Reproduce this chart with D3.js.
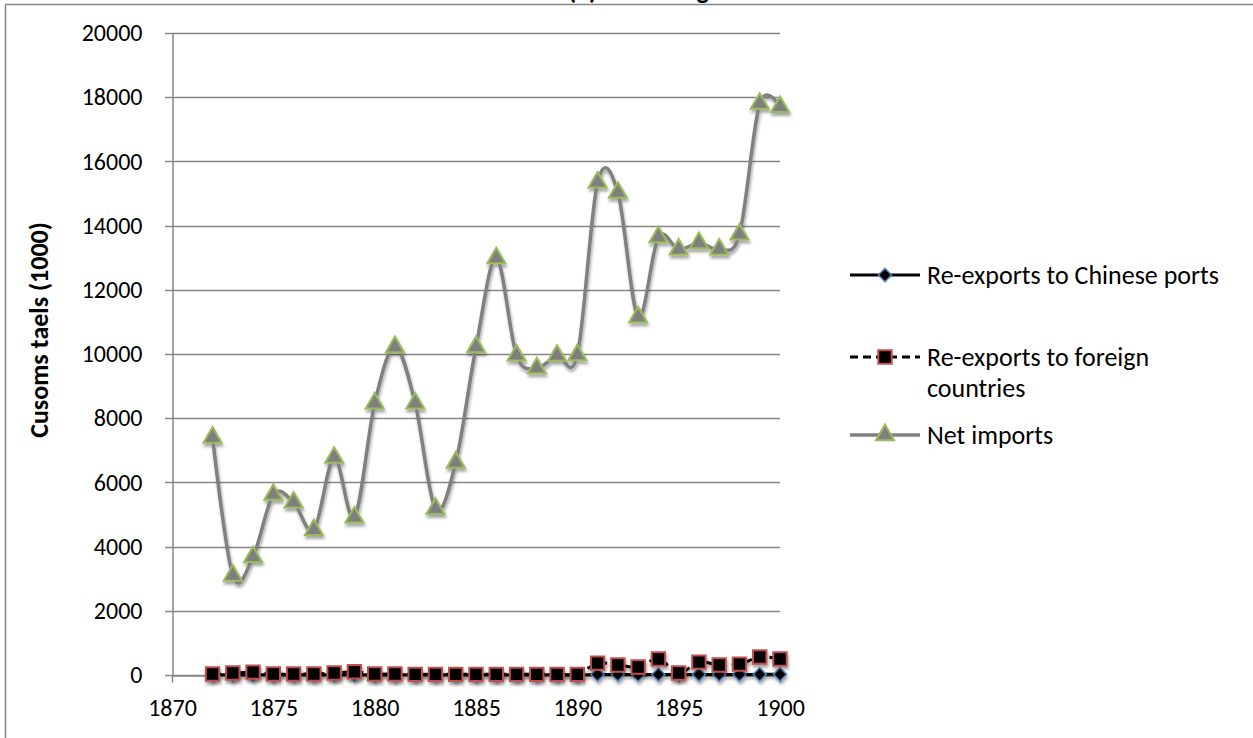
<!DOCTYPE html>
<html lang="en">
  <head>
    <meta charset="UTF-8" />
    <title>Re-exports and net imports</title>
    <style>
      body { margin: 0; background: #fff; }
      text { font-family: Carlito, Calibri, Lato, sans-serif; }
    </style>
    <script src="https://d3js.org/d3.v7.min.js"></script>
  </head>
  <body>
    <div id="svg-container"></div>
    <script>
      // data
      const years = [1872, 1873, 1874, 1875, 1876, 1877, 1878, 1879, 1880, 1881,
        1882, 1883, 1884, 1885, 1886, 1887, 1888, 1889, 1890, 1891,
        1892, 1893, 1894, 1895, 1896, 1897, 1898, 1899, 1900];
      const chinesePorts = [5, 5, 5, 5, 5, 5, 5, 5, 5, 5,
        5, 5, 5, 5, 5, 5, 5, 5, 5, 15,
        15, 10, 15, 10, 15, 15, 15, 20, 20];
      const foreignCountries = [30, 60, 90, 30, 30, 30, 60, 100, 30, 30,
        20, 20, 20, 20, 20, 20, 20, 20, 20, 370,
        310, 250, 500, 60, 400, 310, 340, 560, 500];
      const netImports = [7400, 3100, 3680, 5620, 5380, 4520, 6770, 4910, 8460, 10220,
        8460, 5180, 6620, 10220, 12990, 9960, 9560, 9950, 9970, 15350,
        15030, 11150, 13640, 13260, 13460, 13260, 13730, 17800, 17700];
      const yTicks = [0, 2000, 4000, 6000, 8000, 10000, 12000, 14000, 16000, 18000, 20000];
      const xTicks = [1870, 1875, 1880, 1885, 1890, 1895, 1900];
      const seriesNames = ["Re-exports to Chinese ports", "Re-exports to foreign countries", "Net imports"];

      const width = 1253, height = 738;
      const svg = d3.select("#svg-container").append("svg")
        .attr("width", width).attr("height", height);

      const defs = svg.append("defs");
      const shadow = defs.append("filter").attr("id", "shadow")
        .attr("x", "-20%").attr("y", "-20%").attr("width", "140%").attr("height", "160%");
      shadow.append("feDropShadow")
        .attr("dx", 1).attr("dy", 3).attr("stdDeviation", 1.8)
        .attr("flood-color", "#000").attr("flood-opacity", 0.35);

      // title, mostly cut off by the top edge (as in the source)
      svg.append("text")
        .attr("x", 568).attr("y", -1)
        .attr("font-size", "26px").attr("font-weight", "bold")
        .text("(a) Chinkiang");

      // outer frame (top + left edges visible)
      svg.append("path")
        .attr("d", "M5.5,738 V4.5 H1253")
        .attr("fill", "none").attr("stroke", "#868686").attr("stroke-width", 1.5);

      const x = d3.scaleLinear().domain([1870, 1900]).range([172, 780]);
      const y = d3.scaleLinear().domain([0, 20000]).range([675, 33]);

      // gridlines
      svg.append("g").selectAll("line").data(yTicks).join("line")
        .attr("x1", 165).attr("x2", x(1900))
        .attr("y1", d => Math.round(y(d)) + 0.5).attr("y2", d => Math.round(y(d)) + 0.5)
        .attr("stroke", "#868686").attr("stroke-width", 1.5);

      // y axis
      const yAxis = svg.append("g").attr("transform", "translate(172.5,0)")
        .call(d3.axisLeft(y).tickValues(yTicks).tickFormat(d3.format("d"))
          .tickSize(0).tickPadding(30));
      yAxis.select(".domain").attr("stroke", "#868686").attr("stroke-width", 1.5);
      yAxis.selectAll("text").attr("font-size", "24px").attr("fill", "#000");

      // x axis
      const xAxis = svg.append("g").attr("transform", "translate(0,675.5)")
        .call(d3.axisBottom(x).tickValues(xTicks).tickFormat(d3.format("d"))
          .tickSizeInner(7).tickSizeOuter(0).tickPadding(16));
      xAxis.select(".domain").attr("stroke", "#868686").attr("stroke-width", 1.5);
      xAxis.selectAll(".tick line").attr("stroke", "#868686").attr("stroke-width", 1.5);
      xAxis.selectAll("text").attr("font-size", "24px").attr("fill", "#000");

      svg.append("text")
        .attr("transform", "translate(48,330) rotate(-90)")
        .attr("text-anchor", "middle")
        .attr("font-size", "26px").attr("font-weight", "bold")
        .text("Cusoms taels (1000)");

      const line = d3.line()
        .x((d, i) => x(years[i]))
        .y(d => y(d))
        .curve(d3.curveCardinal.tension(0));

      const symDiamond = d3.symbol().type(d3.symbolDiamond2).size(110);
      const symSquare = d3.symbol().type(d3.symbolSquare).size(180);
      const symTriangle = d3.symbol().type(d3.symbolTriangle).size(140);

      const series = [
        { values: chinesePorts, stroke: "#000", width: 3, dash: null,
          sym: symDiamond, fill: "#000", mStroke: "#4F81BD", mWidth: 1.5 },
        { values: foreignCountries, stroke: "#000", width: 3, dash: "8,5",
          sym: symSquare, fill: "#000", mStroke: "#C0504D", mWidth: 2 },
        { values: netImports, stroke: "#808080", width: 3.5, dash: null,
          sym: symTriangle, fill: "#7F7F7F", mStroke: "#9BBB59", mWidth: 2 }
      ];

      series.forEach(s => {
        const g = svg.append("g").attr("filter", "url(#shadow)");
        g.append("path")
          .datum(s.values)
          .attr("d", line)
          .attr("fill", "none")
          .attr("stroke", s.stroke)
          .attr("stroke-width", s.width)
          .attr("stroke-dasharray", s.dash)
          .attr("stroke-linejoin", "round");
        g.selectAll(".m").data(s.values).join("path")
          .attr("transform", (d, i) => `translate(${x(years[i])},${y(d)})`)
          .attr("d", s.sym)
          .attr("fill", s.fill)
          .attr("stroke", s.mStroke)
          .attr("stroke-width", s.mWidth);
      });

      // legend
      const legendY = [275, 357, 435];
      const legend = svg.append("g");
      series.forEach((s, i) => {
        const ly = legendY[i];
        legend.append("line")
          .attr("x1", 850).attr("x2", 920).attr("y1", ly).attr("y2", ly)
          .attr("stroke", s.stroke).attr("stroke-width", s.width)
          .attr("stroke-dasharray", s.dash);
        legend.append("path")
          .attr("transform", `translate(885,${ly})`)
          .attr("d", s.sym)
          .attr("fill", s.fill).attr("stroke", s.mStroke).attr("stroke-width", s.mWidth);
      });
      const lt = legend.append("g").attr("font-size", "26px");
      lt.append("text").attr("x", 927).attr("y", 284).text(seriesNames[0]);
      const t2 = lt.append("text").attr("x", 927).attr("y", 366);
      t2.append("tspan").text("Re-exports to foreign");
      t2.append("tspan").attr("x", 927).attr("dy", 31).text("countries");
      lt.append("text").attr("x", 927).attr("y", 444).text(seriesNames[2]);
    </script>
  </body>
</html>
